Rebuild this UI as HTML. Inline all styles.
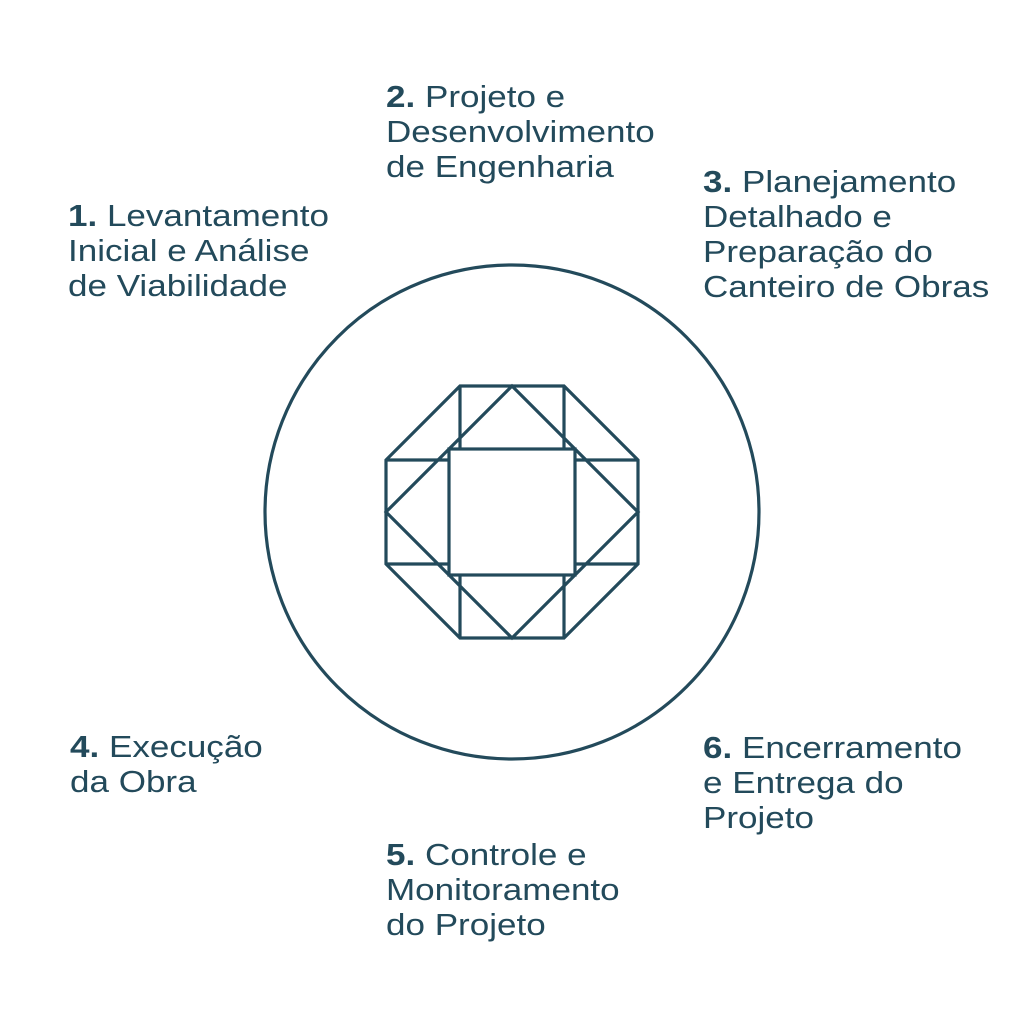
<!DOCTYPE html>
<html><head><style>
body{margin:0;width:1024px;height:1024px;background:#fff;position:relative;overflow:hidden}
.t{position:absolute;font-family:"Liberation Sans",sans-serif;font-size:31px;line-height:35px;color:#234a5b;letter-spacing:0;white-space:nowrap;transform:scaleX(1.13);transform-origin:0 0}
.t b{font-weight:bold}
</style></head><body>
<svg width="1024" height="1024" style="position:absolute;left:0;top:0">
<g fill="none" stroke="#234a5b" stroke-width="3.2" stroke-linejoin="miter">
<circle cx="512" cy="512" r="247"/>
<polygon points="460,386 564,386 638,460 638,564 564,638 460,638 386,564 386,460"/>
<polygon points="512,386 638,512 512,638 386,512"/>
<rect x="449" y="449" width="126" height="126"/>
<line x1="460" y1="386" x2="460" y2="449"/><line x1="564" y1="386" x2="564" y2="449"/>
<line x1="460" y1="575" x2="460" y2="638"/><line x1="564" y1="575" x2="564" y2="638"/>
<line x1="386" y1="460" x2="449" y2="460"/><line x1="386" y1="564" x2="449" y2="564"/>
<line x1="575" y1="460" x2="638" y2="460"/><line x1="575" y1="564" x2="638" y2="564"/>
</g></svg>
<div class="t" style="left:386px;top:79px"><b>2.</b> Projeto e<br>Desenvolvimento<br>de Engenharia</div>
<div class="t" style="left:68px;top:198px"><b>1.</b> Levantamento<br>Inicial e Análise<br>de Viabilidade</div>
<div class="t" style="left:703px;top:164px"><b>3.</b> Planejamento<br>Detalhado e<br>Preparação do<br>Canteiro de Obras</div>
<div class="t" style="left:70px;top:729px"><b>4.</b> Execução<br>da Obra</div>
<div class="t" style="left:703px;top:730px"><b>6.</b> Encerramento<br>e Entrega do<br>Projeto</div>
<div class="t" style="left:386px;top:837px"><b>5.</b> Controle e<br>Monitoramento<br>do Projeto</div>
</body></html>
